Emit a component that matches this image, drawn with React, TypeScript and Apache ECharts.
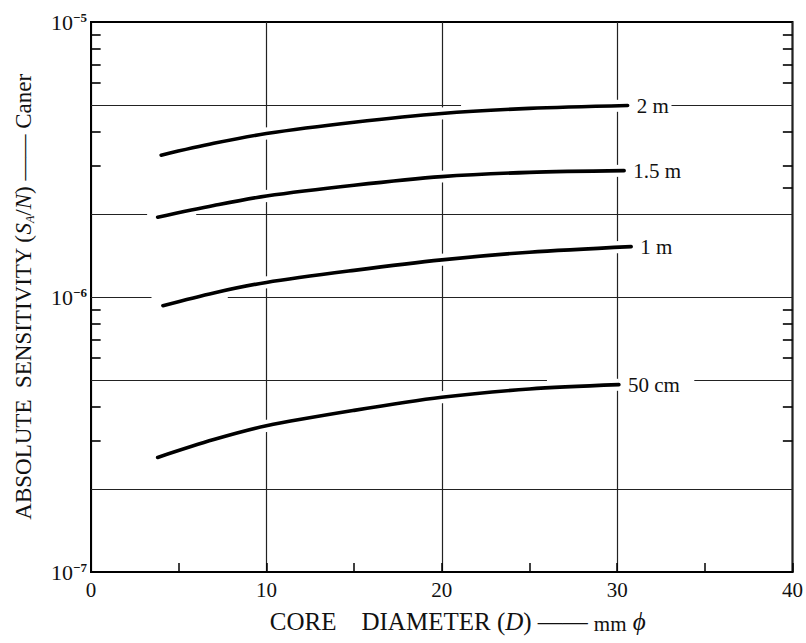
import { useEffect, useRef } from 'react';
import * as echarts from 'echarts';

const SERIF = '"Liberation Serif", "Times New Roman", serif';

// ---- data ----
const curveLabels = ['2 m', '1.5 m', '1 m', '50 cm'];

const diam2m = [4.0, 7, 10, 15, 20, 25, 30.6];
const sens2m = [3.28e-6, 3.62e-6, 3.93e-6, 4.32e-6, 4.65e-6, 4.85e-6, 4.97e-6];

const diam15m = [3.8, 7, 10, 15, 20, 25, 30.4];
const sens15m = [1.95e-6, 2.15e-6, 2.33e-6, 2.55e-6, 2.74e-6, 2.84e-6, 2.88e-6];

const diam1m = [4.1, 7, 10, 15, 20, 25, 30.8];
const sens1m = [9.3e-7, 1.035e-6, 1.13e-6, 1.25e-6, 1.365e-6, 1.455e-6, 1.525e-6];

const diam50cm = [3.8, 7, 10, 15, 20, 25, 30.1];
const sens50cm = [2.61e-7, 3.03e-7, 3.4e-7, 3.87e-7, 4.32e-7, 4.63e-7, 4.8e-7];

const xTickValues = [0, 10, 20, 30, 40];
const yDecades = [1e-7, 1e-6, 1e-5];
const gridLevels = [2e-7, 5e-7, 1e-6, 2e-6, 5e-6];
const minorMantissas = [3, 4, 6, 7, 8, 9];
const extraRightTicks = [2.5e-6];

// drafting breaks in the horizontal grid lines (x ranges, in mm)
const gridBreaks: Record<string, number[][]> = {
  '5e-6': [[21.1, 33.1]],
  '2e-6': [[3.2, 6.0]],
  '1e-6': [[3.45, 7.8]],
  '5e-7': [[26.0, 34.4]],
};

const X_MIN = xTickValues[0];
const X_MAX = xTickValues[xTickValues.length - 1];

function gridSegments() {
  const segs: any[] = [];
  gridLevels.forEach((lv) => {
    const key = lv.toExponential(0);
    const breaks = gridBreaks[key] || [];
    let start = X_MIN;
    breaks.forEach(([a, b]) => {
      segs.push([{ coord: [start, lv] }, { coord: [a, lv] }]);
      start = b;
    });
    segs.push([{ coord: [start, lv] }, { coord: [X_MAX, lv] }]);
  });
  return segs;
}

function tickSegments() {
  const segs: any[] = [];
  const len = 0.55;
  [1e-7, 1e-6].forEach((dec) => {
    minorMantissas.forEach((m) => {
      const v = m * dec;
      segs.push([{ coord: [X_MIN, v] }, { coord: [X_MIN + len, v] }]);
      segs.push([{ coord: [X_MAX - len, v] }, { coord: [X_MAX, v] }]);
    });
  });
  extraRightTicks.forEach((v) => {
    segs.push([{ coord: [X_MAX - len, v] }, { coord: [X_MAX, v] }]);
  });
  return segs;
}

const curves = [
  { name: curveLabels[0], xs: diam2m, ys: sens2m },
  { name: curveLabels[1], xs: diam15m, ys: sens15m },
  { name: curveLabels[2], xs: diam1m, ys: sens1m },
  { name: curveLabels[3], xs: diam50cm, ys: sens50cm },
];

export default function App() {
  const ref = useRef<HTMLDivElement>(null);

  useEffect(() => {
    if (!ref.current) return;
    const chart = echarts.init(ref.current, undefined, { renderer: 'svg' });

    const series: any[] = [];
    series.push({
      type: 'line',
      name: 'grid',
      data: [[20, 1e-6]],
      showSymbol: false,
      symbol: 'none',
      silent: true,
      z: 1,
      lineStyle: { opacity: 0 },
      markLine: {
        symbol: ['none', 'none'],
        silent: true,
        animation: false,
        label: { show: false },
        lineStyle: { color: '#222', width: 1.2, type: 'solid' },
        emphasis: { disabled: true },
        data: gridSegments(),
      },
    });
    series.push({
      type: 'line',
      name: 'ticks',
      data: [[20, 1e-6]],
      showSymbol: false,
      symbol: 'none',
      silent: true,
      z: 1,
      lineStyle: { opacity: 0 },
      markLine: {
        symbol: ['none', 'none'],
        silent: true,
        animation: false,
        label: { show: false },
        lineStyle: { color: '#000', width: 1.6, type: 'solid' },
        emphasis: { disabled: true },
        data: tickSegments(),
      },
    });
    curves.forEach((c) => {
      const data = c.xs.map((x, i) => [x, c.ys[i]]);
      series.push({
        type: 'line',
        name: c.name + ' halo',
        data,
        smooth: 0.3,
        symbol: 'none',
        silent: true,
        z: 2,
        lineStyle: { color: '#fff', width: 12, cap: 'butt' },
      });
      series.push({
        type: 'line',
        name: c.name,
        data,
        smooth: 0.3,
        symbol: 'none',
        silent: true,
        z: 3,
        lineStyle: { color: '#000', width: 3.6, cap: 'round' },
        endLabel: {
          show: true,
          formatter: () => c.name,
          distance: 9,
          fontFamily: SERIF,
          fontSize: 21,
          color: '#111',
        },
      });
    });

    chart.setOption({
      animation: false,
      backgroundColor: '#fff',
      grid: {
        left: 91,
        top: 22,
        width: 702,
        height: 550,
        show: true,
        borderColor: '#000',
        borderWidth: 2,
        backgroundColor: 'transparent',
      },
      xAxis: {
        type: 'value',
        min: X_MIN,
        max: X_MAX,
        interval: 10,
        axisLine: { show: true, lineStyle: { color: '#000', width: 2 } },
        axisTick: { show: true, inside: true, length: 9, lineStyle: { color: '#000', width: 1.5 } },
        minorTick: { show: true, splitNumber: 2, length: 9, lineStyle: { color: '#000', width: 1.5 } },
        splitLine: { show: true, lineStyle: { color: '#222', width: 1.2 } },
        axisLabel: { fontFamily: SERIF, fontSize: 21, color: '#111', margin: 7 },
        name: '{n|CORE    DIAMETER (}{i|D}{n|) ——}{m|mm}{i| ϕ}',
        nameLocation: 'middle',
        nameGap: 36,
        nameTextStyle: {
          padding: [0, 0, 0, 32],
          rich: {
            n: { fontFamily: SERIF, fontSize: 25, color: '#111' },
            i: { fontFamily: SERIF, fontSize: 25, fontStyle: 'italic', color: '#111' },
            m: { fontFamily: SERIF, fontSize: 21, color: '#111', padding: [5, 0, 0, 6] },
          },
        },
      },
      yAxis: {
        type: 'log',
        logBase: 10,
        min: yDecades[0],
        max: yDecades[yDecades.length - 1],
        axisLine: { show: true, lineStyle: { color: '#000', width: 2 } },
        axisTick: { show: false },
        splitLine: { show: false },
        minorTick: { show: false },
        axisLabel: {
          margin: 4,
          formatter: (v: number) => {
            const e = Math.round(Math.log10(v));
            return '{b|10}{s|−' + Math.abs(e) + '}';
          },
          rich: {
            b: { fontFamily: SERIF, fontSize: 22, color: '#111', lineHeight: 22 },
            s: { fontFamily: SERIF, fontSize: 13, fontWeight: 'bold', color: '#111', verticalAlign: 'top', lineHeight: 12 },
          },
        },
        name: '{n|ABSOLUTE  SENSITIVITY (}{i|S}{sub|A}{n|/}{i|N}{n|) —— Caner}',
        nameLocation: 'middle',
        nameRotate: 90,
        nameGap: 55,
        nameTextStyle: {
          rich: {
            n: { fontFamily: SERIF, fontSize: 23, color: '#111', lineHeight: 26 },
            i: { fontFamily: SERIF, fontSize: 23, fontStyle: 'italic', color: '#111', lineHeight: 26 },
            sub: { fontFamily: SERIF, fontSize: 12, fontStyle: 'italic', color: '#111', verticalAlign: 'bottom', lineHeight: 16 },
          },
        },
      },
      series,
    });

    return () => chart.dispose();
  }, []);

  return (
    <div
      ref={ref}
      style={{ position: 'absolute', left: 0, top: 0, width: 806, height: 643, background: '#fff' }}
    />
  );
}
